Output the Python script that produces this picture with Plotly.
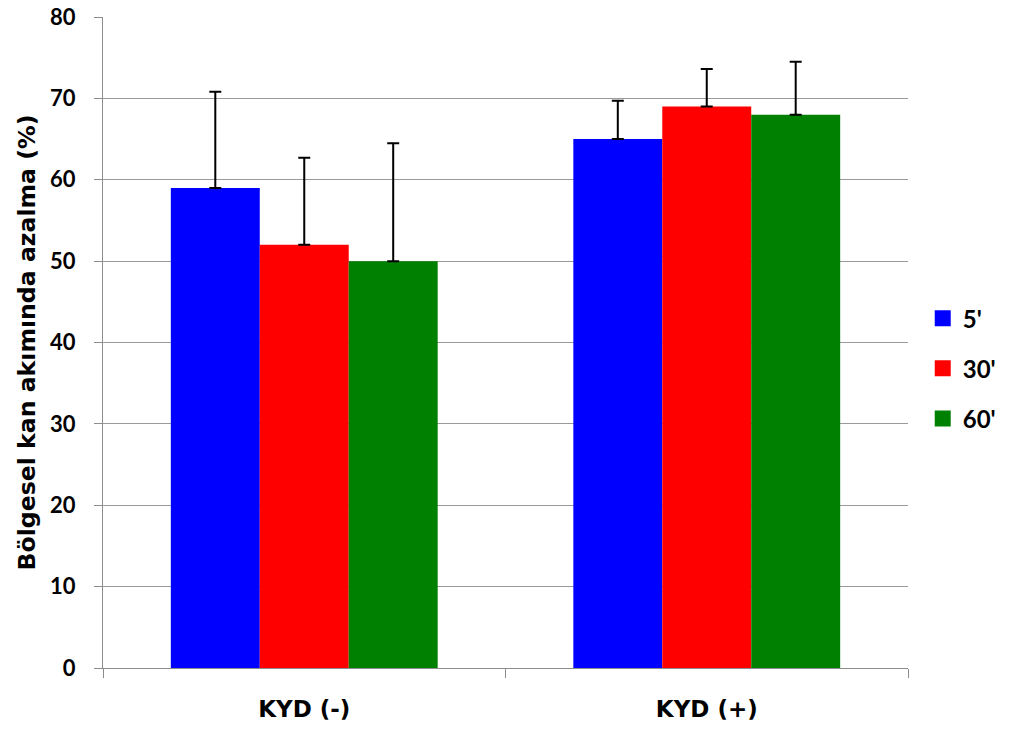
import plotly.graph_objects as go

categories = ["KYD (-)", "KYD (+)"]
series_names = ["5'", "30'", "60'"]
means_5 = [59, 65]
means_30 = [52, 69]
means_60 = [50, 68]
err_5 = [11.8, 4.7]
err_30 = [10.7, 4.6]
err_60 = [14.5, 6.5]
colors = ["#0000FF", "#FF0000", "#008000"]

LATO = "Lato, Open Sans, sans-serif"
DJV = "DejaVu Sans, sans-serif"
AXC = "#8c8c8c"

fig = go.Figure()
for i, (name, vals, errs) in enumerate(zip(series_names, [means_5, means_30, means_60], [err_5, err_30, err_60])):
    fig.add_trace(go.Bar(
        x=categories, y=vals, name=name,
        marker=dict(color=colors[i], line=dict(width=0)),
        error_y=dict(type="data", array=errs, arrayminus=[0] * len(errs), symmetric=False,
                     color="black", thickness=2, width=6),
        showlegend=False,
    ))
# legend entries (square swatches)
for i, name in enumerate(series_names):
    fig.add_trace(go.Scatter(
        x=[None], y=[None], mode="markers", name=name,
        marker=dict(symbol="square", size=16, color=colors[i]),
        legendgroup=name, showlegend=True,
    ))

fig.update_layout(
    width=1003, height=725,
    margin=dict(l=95, r=103, t=9, b=65),
    paper_bgcolor="white", plot_bgcolor="white",
    barmode="group", bargap=0.337, bargroupgap=0,
    font=dict(family=LATO, color="black"),
    legend=dict(xref="container", x=0.912, xanchor="left",
                yref="paper", y=0.46, yanchor="middle",
                font=dict(size=24, family=LATO, weight="bold"),
                tracegroupgap=16, itemwidth=30, bgcolor="rgba(0,0,0,0)"),
    showlegend=True,
)
fig.update_xaxes(
    showline=True, linecolor=AXC, linewidth=1.3,
    ticks="outside", tickson="boundaries", ticklen=9, tickcolor=AXC, tickwidth=1.3,
    tickfont=dict(size=23, family=DJV, weight="bold"),
    ticklabelstandoff=20,
    showgrid=False, automargin=False,
)
fig.update_yaxes(
    range=[0, 80], dtick=10,
    showline=True, linecolor=AXC, linewidth=1.3,
    ticks="outside", ticklen=8, tickcolor=AXC, tickwidth=1.3,
    showgrid=True, gridcolor="#9a9a9a", gridwidth=1.3,
    tickfont=dict(size=22, family=LATO, weight="bold"),
    ticklabelstandoff=14, ticklabeloverflow="allow",
    title=dict(text="Bölgesel kan akımında azalma (%)", font=dict(size=23.6, family=DJV, weight="bold"), standoff=7),
    zeroline=False, automargin=False,
)

fig.write_html("out.html")
